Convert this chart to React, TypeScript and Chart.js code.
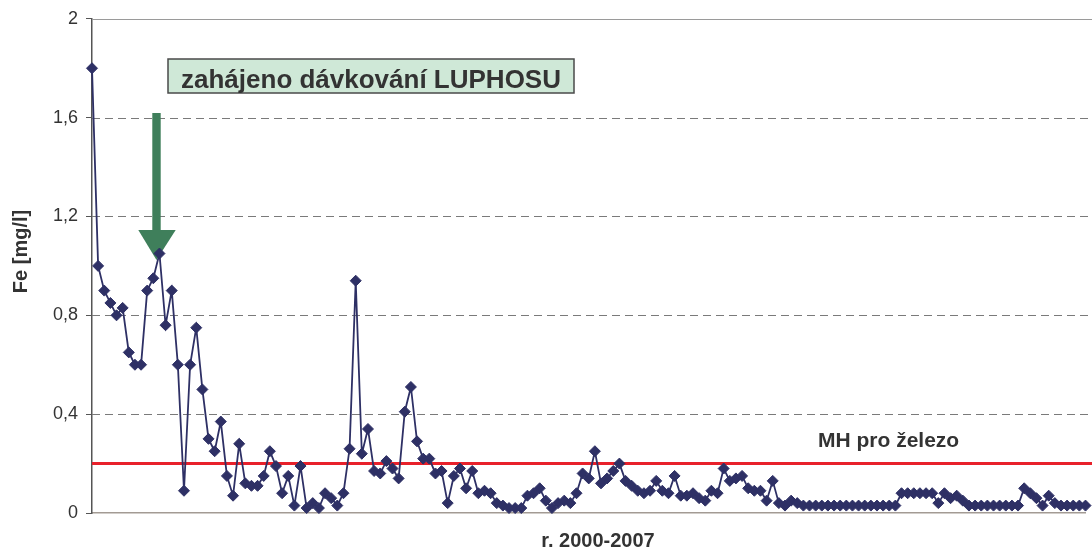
import { useEffect, useRef } from 'react';
import { Chart, registerables } from 'chart.js';

Chart.register(...registerables);

// Fe concentration samples, years 2000-2007 (mg/l)
const FE_VALUES = [
  1.8, 1.0, 0.9, 0.85, 0.8, 0.83, 0.65, 0.6, 0.6, 0.9,
  0.95, 1.05, 0.76, 0.9, 0.6, 0.09, 0.6, 0.75, 0.5, 0.3,
  0.25, 0.37, 0.15, 0.07, 0.28, 0.12, 0.11, 0.11, 0.15, 0.25,
  0.19, 0.08, 0.15, 0.03, 0.19, 0.02, 0.04, 0.02, 0.08, 0.06,
  0.03, 0.08, 0.26, 0.94, 0.24, 0.34, 0.17, 0.16, 0.21, 0.18,
  0.14, 0.41, 0.51, 0.29, 0.22, 0.22, 0.16, 0.17, 0.04, 0.15,
  0.18, 0.1, 0.17, 0.08, 0.09, 0.08, 0.04, 0.03, 0.02, 0.02,
  0.02, 0.07, 0.08, 0.1, 0.05, 0.02, 0.04, 0.05, 0.04, 0.08,
  0.16, 0.14, 0.25, 0.12, 0.14, 0.17, 0.2, 0.13, 0.11, 0.09,
  0.08, 0.09, 0.13, 0.09, 0.08, 0.15, 0.07, 0.07, 0.08, 0.06,
  0.05, 0.09, 0.08, 0.18, 0.13, 0.14, 0.15, 0.1, 0.09, 0.09,
  0.05, 0.13, 0.04, 0.03, 0.05, 0.04, 0.03, 0.03, 0.03, 0.03,
  0.03, 0.03, 0.03, 0.03, 0.03, 0.03, 0.03, 0.03, 0.03, 0.03,
  0.03, 0.03, 0.08, 0.08, 0.08, 0.08, 0.08, 0.08, 0.04, 0.08,
  0.06, 0.07, 0.05, 0.03, 0.03, 0.03, 0.03, 0.03, 0.03, 0.03,
  0.03, 0.03, 0.1, 0.08, 0.06, 0.03, 0.07, 0.04, 0.03, 0.03,
  0.03, 0.03, 0.03,
];
const SAMPLE_LABELS = FE_VALUES.map((_, i) => `${i + 1}`);

const Y_MIN = 0;
const Y_MAX = 2;
const Y_STEP = 0.4;
const MH_LIMIT = 0.2;

const X_TITLE = 'r. 2000-2007';
const Y_TITLE = 'Fe [mg/l]';
const NOTE_TEXT = 'zahájeno dávkování LUPHOSU';
const LIMIT_TEXT = 'MH pro železo';

const FONT = "'Liberation Sans', Arial, Helvetica, sans-serif";
const NAVY = '#2e3065';
const GREEN = '#3f7f5b';

const decorPlugin = {
  id: 'decor',
  beforeDatasetsDraw(chart: any) {
    const { ctx, chartArea, scales } = chart;
    const { left } = chartArea;
    const y = scales.y;
    ctx.save();
    // horizontal grid lines
    y.ticks.forEach((t: any) => {
      const v = t.value;
      if (v <= Y_MIN) return;
      const py = Math.round(y.getPixelForValue(v)) + 0.5;
      ctx.beginPath();
      if (v >= Y_MAX - 1e-9) {
        ctx.setLineDash([]);
        ctx.strokeStyle = '#9a9a9a';
      } else {
        ctx.setLineDash([8, 5]);
        ctx.strokeStyle = '#7a7a7a';
      }
      ctx.lineWidth = 1;
      ctx.moveTo(left, py);
      ctx.lineTo(chart.width, py);
      ctx.stroke();
    });
    ctx.setLineDash([]);
    // limit line
    const ly = y.getPixelForValue(MH_LIMIT);
    ctx.strokeStyle = '#e8212b';
    ctx.lineWidth = 3;
    ctx.beginPath();
    ctx.moveTo(left, ly);
    ctx.lineTo(chart.width, ly);
    ctx.stroke();
    // arrow
    ctx.fillStyle = GREEN;
    ctx.fillRect(152.3, 113, 8.4, 118);
    ctx.beginPath();
    ctx.moveTo(138.3, 230);
    ctx.lineTo(175.7, 230);
    ctx.lineTo(156.5, 260);
    ctx.closePath();
    ctx.fill();
    ctx.restore();
  },
  afterDatasetsDraw(chart: any) {
    const { ctx } = chart;
    ctx.save();
    // note box
    ctx.fillStyle = '#cfe8d7';
    ctx.fillRect(168, 59, 406, 34);
    ctx.strokeStyle = '#4a4a4a';
    ctx.lineWidth = 1.5;
    ctx.strokeRect(168, 59, 406, 34);
    ctx.fillStyle = '#333333';
    ctx.font = `bold 26px ${FONT}`;
    ctx.textAlign = 'center';
    ctx.textBaseline = 'alphabetic';
    ctx.fillText(NOTE_TEXT, 371, 88);
    // limit label
    ctx.font = `bold 21px ${FONT}`;
    ctx.textAlign = 'left';
    ctx.fillText(LIMIT_TEXT, 818, 446.5);
    // x title
    ctx.font = `bold 20px ${FONT}`;
    ctx.textAlign = 'center';
    ctx.textBaseline = 'middle';
    ctx.fillText(X_TITLE, 598, 541);
    // y title
    ctx.translate(21.5, 251.5);
    ctx.rotate(-Math.PI / 2);
    ctx.fillText(Y_TITLE, 0, 0);
    ctx.restore();
  },
};

export default function App() {
  const ref = useRef<HTMLCanvasElement>(null);
  useEffect(() => {
    if (!ref.current) return;
    const chart = new Chart(ref.current, {
      type: 'line',
      data: {
        labels: SAMPLE_LABELS,
        datasets: [
          {
            data: FE_VALUES,
            borderColor: NAVY,
            backgroundColor: NAVY,
            borderWidth: 1.8,
            pointStyle: 'rectRot',
            pointRadius: 5.5,
            pointBorderWidth: 1,
            pointBackgroundColor: NAVY,
            pointBorderColor: NAVY,
            tension: 0,
            clip: false as any,
          },
        ],
      },
      options: {
        responsive: false,
        animation: false,
        events: [],
        layout: { padding: { left: 0, top: 18, right: 0, bottom: 0 } },
        plugins: { legend: { display: false }, tooltip: { enabled: false } },
        scales: {
          x: {
            type: 'category',
            offset: false,
            grid: { display: false },
            ticks: { display: false },
            border: { display: true, color: '#a39b94', width: 1.5 },
            afterFit: (s: any) => {
              s.height = 36;
            },
          },
          y: {
            min: Y_MIN,
            max: Y_MAX,
            ticks: {
              stepSize: Y_STEP,
              padding: 8,
              color: '#333333',
              font: { family: FONT, size: 18 },
              callback: (v: any) => String(Math.round(Number(v) * 10) / 10).replace('.', ','),
            },
            grid: { drawOnChartArea: false, drawTicks: true, tickLength: 6, color: '#555555' },
            border: { display: true, color: '#555555', width: 1.5 },
            afterFit: (s: any) => {
              s.width = 92;
            },
          },
        },
      },
      plugins: [decorPlugin],
    });
    return () => chart.destroy();
  }, []);
  return (
    <div style={{ position: 'absolute', left: 0, top: 0, width: 1092, height: 549, background: '#fff' }}>
      <canvas ref={ref} width={1092} height={549} />
    </div>
  );
}
